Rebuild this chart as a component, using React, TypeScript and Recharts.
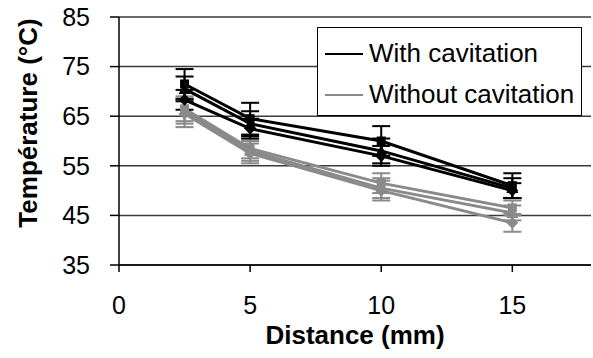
import {CartesianGrid, ErrorBar, Line, LineChart, XAxis, YAxis} from "recharts";

// distances in mm
const distances = [2.5, 5, 10, 15];

// temperatures with cavitation (three runs)
const withCav1 = [71.5, 64.5, 60, 51];
const withCav2 = [70.5, 63.5, 58, 50.5];
const withCav3 = [68.3, 62.5, 57, 50];
const withCavErr1 = [3, 3.2, 3, 2.5];
const withCavErr2 = [2.5, 2.5, 2.5, 2];
const withCavErr3 = [2, 2, 2, 1.5];

// temperatures without cavitation (three runs)
const withoutCav1 = [66.5, 58.5, 51.5, 46.5];
const withoutCav2 = [66, 58, 50.5, 45.5];
const withoutCav3 = [65.5, 57.5, 50, 43.5];
const withoutCavErr1 = [2.5, 2, 2, 1.5];
const withoutCavErr2 = [2.5, 2, 2, 1.5];
const withoutCavErr3 = [2.7, 2, 2, 1.8];

const yTicks = [35, 45, 55, 65, 75, 85];
const xTicks = [0, 5, 10, 15];
const legendNames = ["With cavitation", "Without cavitation"];

const BLACK = "#000000";
const GREY = "#8a8a8a";
const FONT = "'Liberation Sans', Arial, sans-serif";

const data = distances.map((d, i) => ({
    d,
    w1: withCav1[i], w1e: withCavErr1[i],
    w2: withCav2[i], w2e: withCavErr2[i],
    w3: withCav3[i], w3e: withCavErr3[i],
    n1: withoutCav1[i], n1e: withoutCavErr1[i],
    n2: withoutCav2[i], n2e: withoutCavErr2[i],
    n3: withoutCav3[i], n3e: withoutCavErr3[i],
}));

type Shape = 'square' | 'triangle' | 'diamond';

function makeDot(shape: Shape, color: string) {
    return (props: any) => {
        const {cx, cy, index} = props;
        const k = `${shape}-${color}-${index}`;
        if (cx == null || cy == null) return <g key={k}/>;
        if (shape === 'square') {
            return <rect key={k} x={cx - 4.5} y={cy - 4.5} width={9} height={9} fill={color}/>;
        }
        if (shape === 'triangle') {
            return <polygon key={k} points={`${cx},${cy - 6} ${cx + 6},${cy + 5} ${cx - 6},${cy + 5}`} fill={color}/>;
        }
        return <polygon key={k} points={`${cx},${cy - 6} ${cx + 6},${cy} ${cx},${cy + 6} ${cx - 6},${cy}`} fill={color}/>;
    };
}

const series: { key: string, color: string, shape: Shape }[] = [
    {key: 'n1', color: GREY, shape: 'square'},
    {key: 'n2', color: GREY, shape: 'triangle'},
    {key: 'n3', color: GREY, shape: 'diamond'},
    {key: 'w1', color: BLACK, shape: 'square'},
    {key: 'w2', color: BLACK, shape: 'triangle'},
    {key: 'w3', color: BLACK, shape: 'diamond'},
];

// drawn outside the chart so it doesn't eat plot height
function LegendBox() {
    const colors = [BLACK, GREY];
    return <div style={{
        position: 'absolute',
        left: 317,
        top: 27,
        background: '#fff',
        border: '1.5px solid #000',
        width: 265,
        height: 89,
        boxSizing: 'border-box',
        padding: '5px 0 0 7px',
        fontFamily: FONT,
        fontSize: 26,
        color: '#000',
    }}>
        {legendNames.map((name, i) => (
            <div key={name} style={{display: 'flex', alignItems: 'center', height: 41}}>
                <div style={{width: 38, height: 2, background: colors[i], marginRight: 6}}/>
                <span>{name}</span>
            </div>
        ))}
    </div>;
}

function YTitle(props: any) {
    const {viewBox} = props;
    const x = viewBox.x + 28;
    const y = viewBox.y + viewBox.height / 2 - 18;
    return <text x={x} y={y} transform={`rotate(-90 ${x} ${y})`} textAnchor="middle" dominantBaseline="central"
                 fontFamily={FONT} fontSize={26} fontWeight="bold" fill="#000">
        Température (°C)
    </text>;
}

export default function App() {
    return <div style={{position: 'absolute', left: 0, top: 0, width: 593, height: 358, background: '#fff'}}>
        <LineChart width={591} height={358} data={data} margin={{top: 17, right: 0, left: 0, bottom: 0}}>
            <CartesianGrid vertical={false} stroke="#3a3a3a" strokeWidth={1.5}/>
            <XAxis dataKey="d" type="number" domain={[0, 18]} ticks={xTicks} height={93}
                   tickSize={7} tickMargin={24}
                   axisLine={{stroke: '#000', strokeWidth: 1.5}} tickLine={{stroke: '#000', strokeWidth: 1.5}}
                   tick={{fill: '#000', fontSize: 25, fontFamily: FONT}}
                   label={{value: 'Distance (mm)', position: 'insideBottom', offset: 14, fill: '#000',
                       fontSize: 26, fontWeight: 'bold', fontFamily: FONT}}/>
            <YAxis type="number" domain={[35, 85]} ticks={yTicks} width={119}
                   tickSize={9} tickMargin={20}
                   axisLine={{stroke: '#000', strokeWidth: 1.5}} tickLine={{stroke: '#000', strokeWidth: 1.5}}
                   tick={{fill: '#000', fontSize: 25, fontFamily: FONT}}
                   label={{content: YTitle}}/>
            {series.map(s => (
                <Line key={s.key} dataKey={s.key} stroke={s.color} strokeWidth={3}
                      dot={makeDot(s.shape, s.color)} activeDot={false} isAnimationActive={false}>
                    <ErrorBar dataKey={`${s.key}e`} direction="y" width={9} stroke={s.color} strokeWidth={2}/>
                </Line>
            ))}
        </LineChart>
        <LegendBox/>
    </div>;
}
